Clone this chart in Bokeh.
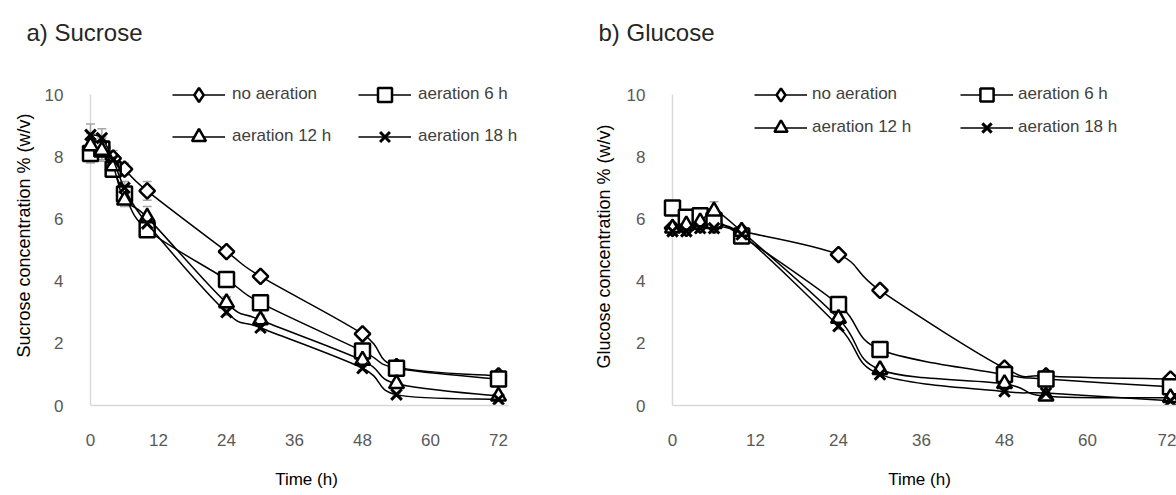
import math
from bokeh.plotting import figure
from bokeh.models import (Range1d, FixedTicker, Legend, LegendItem, Whisker,
                          ColumnDataSource, TeeHead, BoxAnnotation, Title)
from bokeh.layouts import row
from bokeh.embed import file_html
from bokeh.resources import INLINE

# ---------------- data ----------------
time_h = [0, 2, 4, 6, 10, 24, 30, 48, 54, 72]
series_labels = ["no aeration", "aeration 6 h", "aeration 12 h", "aeration 18 h"]
x_ticks = [0, 12, 24, 36, 48, 60, 72]
y_ticks = [0, 2, 4, 6, 8, 10]

sucrose_no_aeration = [8.2, 8.3, 7.95, 7.6, 6.9, 4.95, 4.15, 2.3, 1.25, 0.95]
sucrose_aeration_6h = [8.1, 8.25, 7.6, 6.8, 5.65, 4.05, 3.3, 1.75, 1.2, 0.85]
sucrose_aeration_12h = [8.35, 8.2, 7.7, 6.6, 6.05, 3.3, 2.75, 1.45, 0.7, 0.3]
sucrose_aeration_18h = [8.7, 8.6, 7.9, 7.0, 5.85, 3.0, 2.5, 1.2, 0.35, 0.2]

sucrose_err_no = [0.3, 0.3, 0.25, 0.2, 0.3, 0.15, 0.1, 0.1, 0.05, 0.05]
sucrose_err_6h = [0.3, 0.4, 0.2, 0.3, 0.15, 0.1, 0.1, 0.1, 0.1, 0.05]
sucrose_err_12h = [0.4, 0.3, 0.3, 0.2, 0.35, 0.2, 0.15, 0.1, 0.05, 0.05]
sucrose_err_18h = [0.35, 0.3, 0.2, 0.2, 0.2, 0.1, 0.1, 0.05, 0.05, 0.05]

glucose_no_aeration = [5.7, 5.7, 5.8, 5.8, 5.6, 4.85, 3.7, 1.2, 0.95, 0.85]
glucose_aeration_6h = [6.35, 6.05, 6.1, 5.95, 5.45, 3.25, 1.8, 1.0, 0.85, 0.6]
glucose_aeration_12h = [5.7, 5.8, 5.9, 6.25, 5.6, 2.8, 1.15, 0.7, 0.3, 0.25]
glucose_aeration_18h = [5.6, 5.6, 5.7, 5.7, 5.5, 2.55, 1.0, 0.45, 0.4, 0.15]

glucose_err_no = [0.1, 0.15, 0.2, 0.25, 0.1, 0.15, 0.1, 0.1, 0.05, 0.05]
glucose_err_6h = [0.2, 0.1, 0.15, 0.15, 0.1, 0.1, 0.1, 0.05, 0.05, 0.05]
glucose_err_12h = [0.15, 0.1, 0.2, 0.3, 0.15, 0.1, 0.1, 0.05, 0.05, 0.05]
glucose_err_18h = [0.1, 0.1, 0.1, 0.1, 0.1, 0.1, 0.05, 0.05, 0.05, 0.05]

FONT = "Liberation Sans"
GRID_GREY = "#d9d9d9"


def bezier_segments(xs, ys):
    n = len(xs)
    out = dict(x0=[], y0=[], x1=[], y1=[], cx0=[], cy0=[], cx1=[], cy1=[])
    for i in range(n - 1):
        a = max(i - 1, 0)
        d = min(i + 2, n - 1)
        out["x0"].append(xs[i]); out["y0"].append(ys[i])
        out["x1"].append(xs[i + 1]); out["y1"].append(ys[i + 1])
        out["cx0"].append(xs[i] + (xs[i + 1] - xs[a]) / 6.0)
        out["cy0"].append(ys[i] + (ys[i + 1] - ys[a]) / 6.0)
        out["cx1"].append(xs[i + 1] - (xs[d] - xs[i]) / 6.0)
        out["cy1"].append(ys[i + 1] - (ys[d] - ys[i]) / 6.0)
    return out


def make_chart(title, ylabel, series, errors, cfg):
    p = figure(width=cfg["width"], height=495, output_backend="svg",
               toolbar_location=None, title=None,
               x_range=Range1d(cfg["xs"], cfg["xe"]), y_range=Range1d(0, 10.579),
               min_border_left=cfg["bl"], min_border_right=cfg["br"],
               min_border_top=76, min_border_bottom=90)
    p.outline_line_color = None
    p.xgrid.visible = False
    p.ygrid.visible = False
    p.background_fill_color = "white"
    p.border_fill_color = "white"

    # spacer between frame and chart title, then the chart title
    p.add_layout(Title(text=" ", text_font_size="1px", standoff=28), "above")
    p.add_layout(Title(text=title, align="left", offset=cfg["toff"], standoff=0,
                       text_font=FONT, text_font_size="24px",
                       text_font_style="normal", text_color="#262626"), "above")

    xa = p.xaxis[0]
    ya = p.yaxis[0]
    xa.ticker = FixedTicker(ticks=x_ticks)
    ya.ticker = FixedTicker(ticks=y_ticks)
    xa.bounds = (0, cfg["xb"])
    xa.axis_line_color = GRID_GREY
    xa.axis_line_width = 1.5
    ya.axis_line_color = None
    for ax in (xa, ya):
        ax.major_tick_line_color = None
        ax.minor_tick_line_color = None
        ax.major_tick_in = 0
        ax.major_tick_out = 0
        ax.minor_tick_in = 0
        ax.minor_tick_out = 0
        ax.major_label_text_font = FONT
        ax.major_label_text_font_size = "17px"
        ax.major_label_text_color = "#595959"
        ax.axis_label_text_font = FONT
        ax.axis_label_text_font_style = "normal"
        ax.axis_label_text_color = "#000000"
    ya.major_label_standoff = 17
    xa.major_label_standoff = 28
    xa.axis_label = "Time (h)"
    xa.axis_label_text_font_size = "17px"
    xa.axis_label_standoff = 21

    # y-axis title, placed along the axis like the original
    p.add_layout(Title(text=ylabel, align="left", offset=cfg["yoff"],
                       standoff=cfg["ystand"], text_font=FONT,
                       text_font_size="18px", text_font_style="normal",
                       text_color="#000000"), "left")

    # vertical axis line at x = 0 from 0 to 10
    p.add_layout(BoxAnnotation(left=0, right=0, bottom=0, top=10,
                               fill_alpha=0, line_color=GRID_GREY, line_alpha=1,
                               line_width=1.5, level="underlay"))

    markers = ["square", "square", "triangle", "x"]
    angles = [math.pi / 4, 0, 0, 0]
    sizes = [11, 15, 15, 15]
    widths = [2.5, 2.5, 2.5, 3]
    renderers = []
    for vals, errs, mk, ang, sz, lw in zip(series, errors, markers, angles, sizes, widths):
        bz = p.bezier(source=ColumnDataSource(bezier_segments(time_h, vals)),
                      x0="x0", y0="y0", x1="x1", y1="y1",
                      cx0="cx0", cy0="cy0", cx1="cx1", cy1="cy1",
                      line_color="black", line_width=1.5)
        src = ColumnDataSource(dict(t=time_h, v=vals,
                                    up=[v + e for v, e in zip(vals, errs)],
                                    lo=[v - e for v, e in zip(vals, errs)]))
        wk = Whisker(source=src, base="t", upper="up", lower="lo",
                     line_color="#a6a6a6", line_width=1.5,
                     upper_head=TeeHead(size=9, line_color="#a6a6a6", line_width=1.5),
                     lower_head=TeeHead(size=9, line_color="#a6a6a6", line_width=1.5))
        p.add_layout(wk)
        sc = p.scatter(x="t", y="v", source=src, marker=mk, angle=ang, size=sz,
                       fill_color="white", line_color="black", line_width=lw)
        renderers.append((bz, sc))

    # legend-only diamond glyph (no visible point)
    leg_diamond = p.scatter(x=[math.nan], y=[math.nan], marker="diamond", size=16,
                            fill_color="white", line_color="black", line_width=2.5)
    leg_renderers = [
        [renderers[0][0], leg_diamond],
        [renderers[1][0], renderers[1][1]],
        [renderers[2][0], renderers[2][1]],
        [renderers[3][0], renderers[3][1]],
    ]
    for cols_idx, lx in ((0, cfg["lx1"]), (1, cfg["lx2"])):
        items = [LegendItem(label=series_labels[k], renderers=leg_renderers[k])
                 for k in (cols_idx, cols_idx + 2)]
        lg = Legend(items=items, location=(lx, cfg["ly"]), orientation="vertical",
                    glyph_width=53, glyph_height=cfg["gh"], spacing=cfg["sp"],
                    label_standoff=cfg["ls"], padding=0, margin=0,
                    border_line_alpha=0, background_fill_alpha=0,
                    label_text_font=FONT, label_text_font_size="17px",
                    label_text_color="#404040")
        p.add_layout(lg)
    return p


left_cfg = dict(width=581, xs=-1.765, xe=78.0, xb=73.76, bl=80, br=49,
                lx1=92, lx2=278, ly=251.5, gh=35, sp=7, ls=7,
                toff=-54, yoff=48, ystand=16)
right_cfg = dict(width=595, xs=-1.446, xe=72.87, xb=72.87, bl=81, br=0,
                 lx1=92, lx2=298, ly=261.5, gh=33, sp=0, ls=5,
                 toff=-64, yoff=37, ystand=20)

p1 = make_chart("a) Sucrose", "Sucrose concentration % (w/v)",
                [sucrose_no_aeration, sucrose_aeration_6h, sucrose_aeration_12h, sucrose_aeration_18h],
                [sucrose_err_no, sucrose_err_6h, sucrose_err_12h, sucrose_err_18h], left_cfg)
p2 = make_chart("b) Glucose", "Glucose concentration % (w/v)",
                [glucose_no_aeration, glucose_aeration_6h, glucose_aeration_12h, glucose_aeration_18h],
                [glucose_err_no, glucose_err_6h, glucose_err_12h, glucose_err_18h], right_cfg)

layout = row(p1, p2, spacing=0)
open("out.html", "w").write(file_html(layout, INLINE))
